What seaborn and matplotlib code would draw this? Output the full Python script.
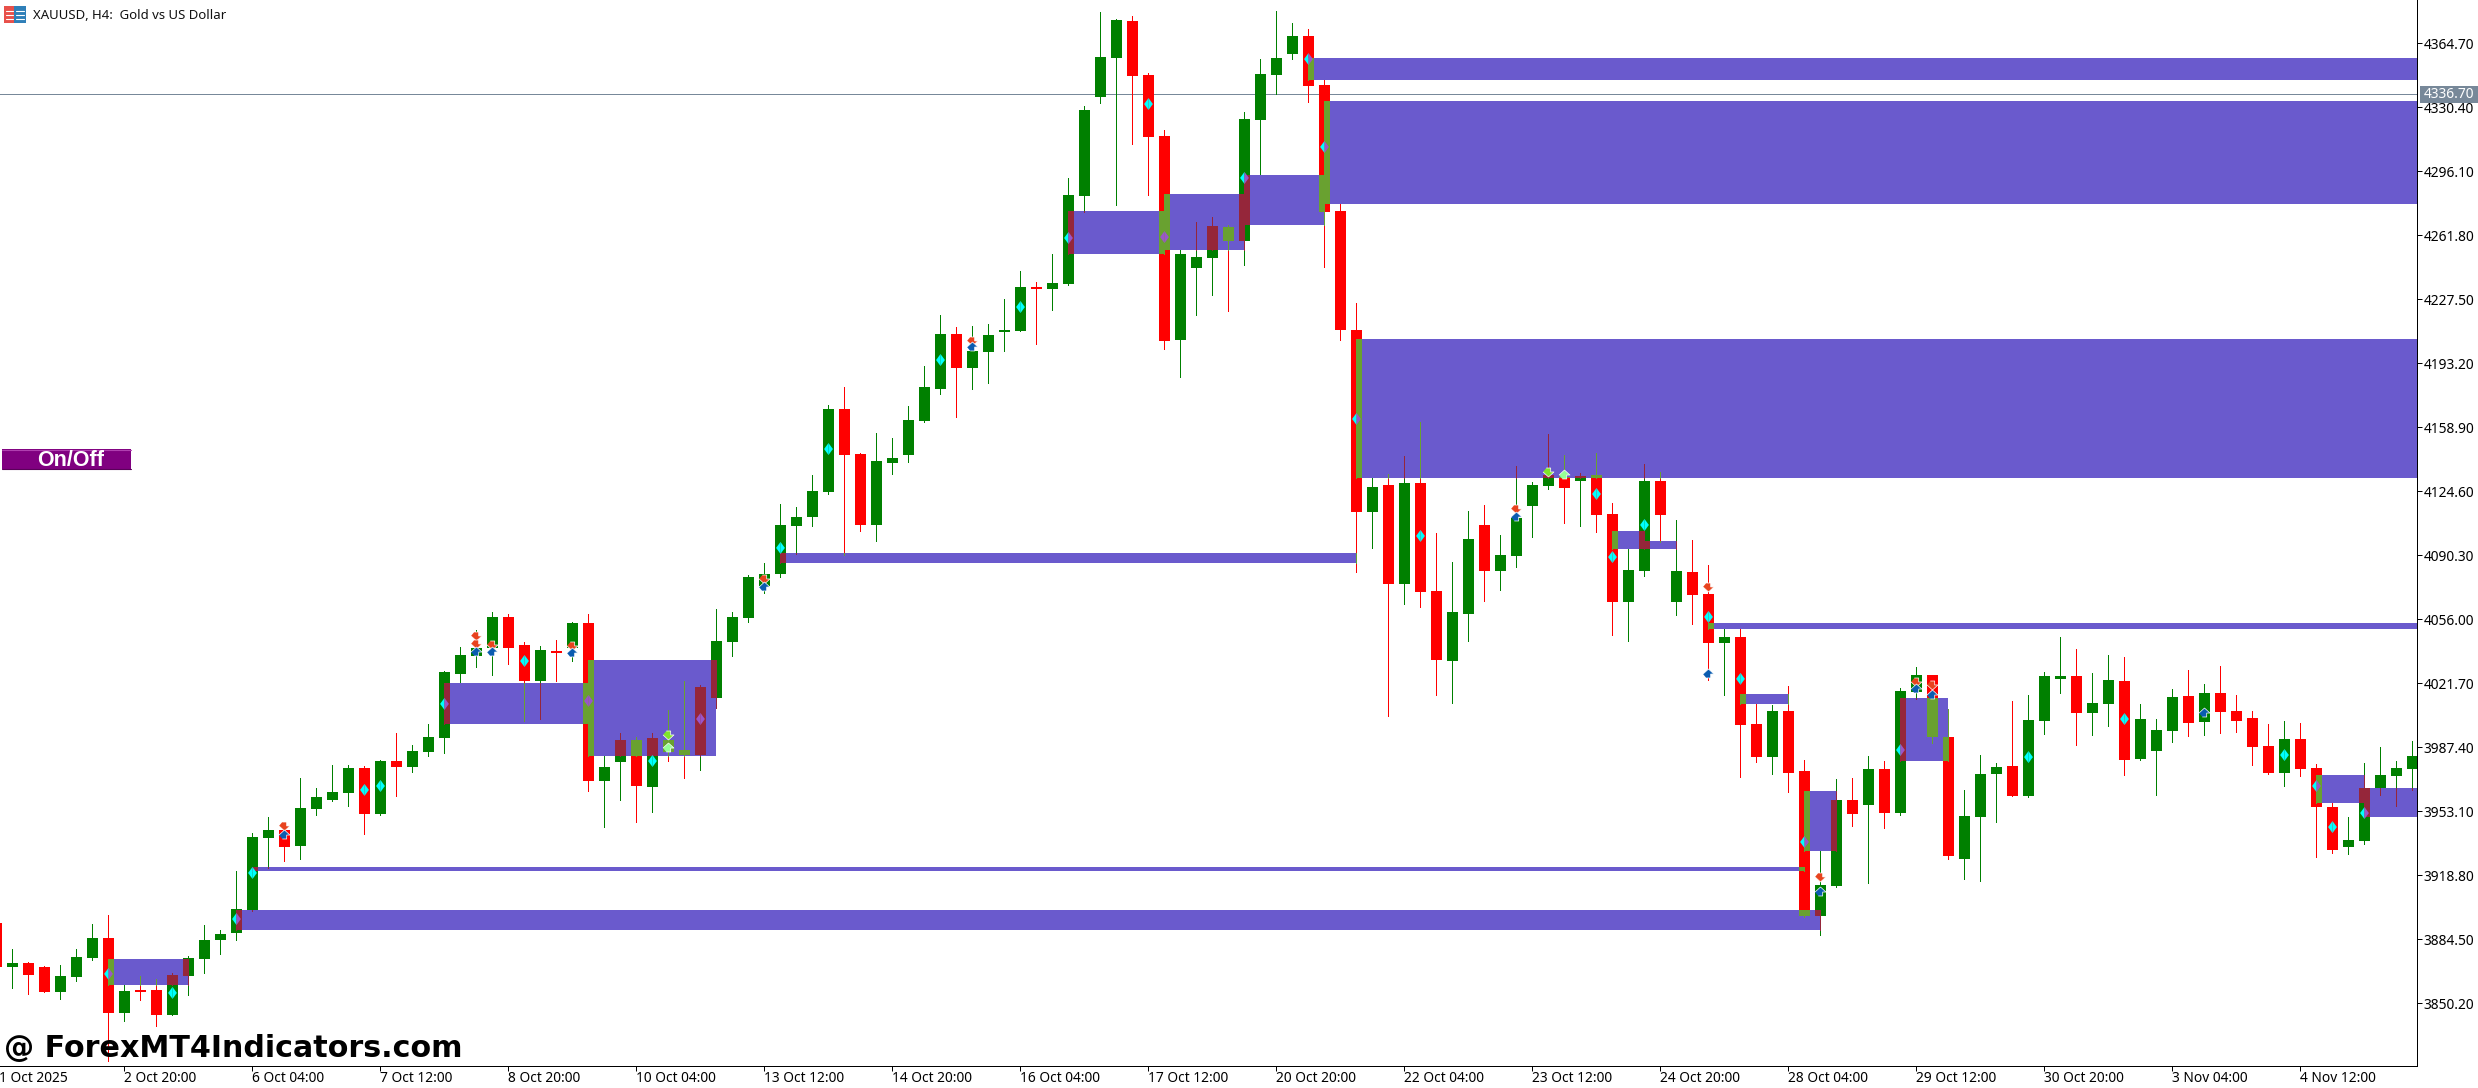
import numpy as np
import pandas as pd
import seaborn as sns
import matplotlib.pyplot as plt
from matplotlib.patches import Rectangle

sns.set_style("white")
plt.rcParams['font.family'] = ['Noto Sans', 'DejaVu Sans']

# H4 candles, first bar is cut off by the left edge
first_bar = -1
opens = [3893.1, 3869.5, 3871.6, 3869.5, 3856.1, 3864.1, 3874.3, 3885.0, 3844.8, 3857.2,
         3857.2, 3843.8, 3864.7, 3873.8, 3884.0, 3887.7, 3900.0, 3938.6, 3942.9, 3934.3,
         3954.2, 3959.0, 3962.8, 3976.2, 3951.5, 3979.9, 3976.7, 3984.7, 3992.2, 4026.5,
         4036.2, 4040.5, 4057.1, 4042.1, 4022.8, 4038.9, 4040.5, 4053.9, 3969.2, 3979.4,
         3991.2, 3966.0, 3991.2, 3985.8, 3983.1, 4013.7, 4043.7, 4056.5, 4073.7, 4080.1,
         4105.9, 4110.7, 4124.1, 4168.6, 4144.4, 4106.4, 4139.6, 4143.9, 4162.1, 4179.3,
         4208.8, 4190.5, 4199.1, 4209.8, 4210.4, 4233.9, 4232.9, 4235.5, 4282.7, 4335.8,
         4356.7, 4376.5, 4347.6, 4314.9, 4205.5, 4244.1, 4249.5, 4266.1, 4258.6, 4323.4,
         4347.6, 4358.8, 4368.5, 4342.2, 4274.7, 4210.9, 4113.4, 4127.8, 4074.8, 4128.9,
         4071.0, 4033.5, 4058.7, 4106.4, 4081.7, 4089.8, 4116.6, 4127.3, 4132.1, 4130.0,
         4133.2, 4112.3, 4065.1, 4081.7, 4130.0, 4065.1, 4081.2, 4069.4, 4043.1, 4046.4,
         3999.7, 3982.0, 4006.7, 3974.5, 3896.8, 3912.9, 3959.0, 3956.3, 3975.6, 3952.0,
         4016.9, 4026.0, 3992.8, 3927.4, 3949.9, 3972.9, 3977.2, 3961.1, 4001.3, 4023.9,
         4025.5, 4005.6, 4010.5, 4022.8, 3981.0, 3985.3, 3996.0, 4014.7, 4000.8, 4016.3,
         4006.7, 4003.0, 3987.9, 3973.5, 3991.7, 3976.2, 3955.2, 3933.8, 3937.0, 3965.4,
         3971.9, 3975.6]
highs = [3894.7, 3879.1, 3872.2, 3870.0, 3870.6, 3879.1, 3892.5, 3897.4, 3859.8, 3864.7,
         3863.1, 3866.3, 3875.4, 3892.0, 3889.3, 3921.0, 3941.3, 3949.9, 3947.2, 3970.8,
         3965.4, 3977.8, 3977.8, 3977.2, 3980.4, 3994.9, 3988.5, 3999.7, 4028.2, 4041.0,
         4050.1, 4059.8, 4058.7, 4043.7, 4041.5, 4044.8, 4054.4, 4058.7, 3982.6, 3994.9,
         3992.8, 3994.9, 4007.2, 4022.8, 4020.6, 4061.4, 4059.8, 4079.6, 4086.0, 4117.6,
         4116.0, 4133.2, 4170.7, 4180.3, 4145.0, 4155.7, 4153.0, 4170.2, 4191.6, 4218.9,
         4212.5, 4213.0, 4214.1, 4227.5, 4242.5, 4236.6, 4251.6, 4292.4, 4330.9, 4381.3,
         4377.6, 4379.2, 4348.6, 4318.1, 4253.8, 4268.8, 4271.5, 4267.2, 4327.7, 4356.1,
         4381.9, 4375.4, 4372.2, 4344.9, 4278.4, 4225.4, 4131.6, 4133.7, 4143.4, 4161.6,
         4102.1, 4086.6, 4113.9, 4117.1, 4101.0, 4138.0, 4129.4, 4155.2, 4143.9, 4134.3,
         4145.0, 4118.2, 4093.5, 4139.1, 4134.8, 4109.1, 4098.3, 4084.9, 4050.6, 4050.6,
         4010.5, 4009.9, 4020.1, 3980.4, 3931.7, 3970.3, 3970.8, 3982.6, 3979.9, 4019.0,
         4030.3, 4026.0, 4007.8, 3964.4, 3983.1, 3978.8, 4012.1, 4015.3, 4027.6, 4046.4,
         4039.9, 4027.1, 4036.7, 4035.6, 4010.5, 4002.4, 4018.5, 4028.7, 4021.2, 4030.8,
         4015.3, 4006.7, 3999.7, 4001.3, 4000.3, 3978.3, 3957.4, 3949.9, 3978.8, 3987.4,
         3979.9, 3990.6]
lows = [3867.9, 3858.2, 3855.0, 3856.1, 3852.3, 3862.0, 3873.2, 3819.1, 3840.6, 3851.8,
        3837.9, 3843.8, 3854.5, 3866.3, 3876.5, 3884.0, 3899.5, 3922.6, 3926.3, 3927.4,
        3951.0, 3958.5, 3955.8, 3940.8, 3951.0, 3961.1, 3974.0, 3982.6, 3984.2, 4021.7,
        4030.3, 4026.0, 4031.9, 4001.3, 4002.4, 4022.8, 4033.5, 3963.8, 3944.5, 3959.0,
        3947.2, 3952.6, 3979.9, 3970.8, 3975.1, 4008.3, 4036.2, 4054.4, 4069.9, 4078.5,
        4090.8, 4105.9, 4123.0, 4090.3, 4103.2, 4097.8, 4133.7, 4140.2, 4161.6, 4176.6,
        4164.3, 4179.3, 4182.5, 4199.6, 4210.4, 4203.4, 4221.6, 4235.0, 4274.1, 4332.6,
        4277.9, 4310.6, 4283.2, 4200.7, 4185.7, 4218.9, 4229.6, 4221.1, 4245.7, 4294.0,
        4337.4, 4356.1, 4333.1, 4244.7, 4205.5, 4081.2, 4094.1, 4004.0, 4064.0, 4062.4,
        4015.3, 4011.0, 4044.2, 4065.7, 4071.6, 4083.9, 4100.0, 4125.7, 4107.5, 4105.9,
        4102.6, 4047.4, 4044.2, 4079.0, 4097.3, 4058.1, 4053.3, 4023.3, 4015.3, 3971.3,
        3979.4, 3972.9, 3963.3, 3896.3, 3886.6, 3912.4, 3945.1, 3914.5, 3944.0, 3951.0,
        4013.1, 3989.6, 3927.4, 3916.7, 3915.6, 3947.2, 3961.1, 3960.6, 3994.4, 4016.3,
        3988.5, 3993.8, 3998.7, 3972.4, 3980.4, 3961.7, 3990.1, 3993.3, 3993.8, 3994.9,
        3995.4, 3977.8, 3972.9, 3966.5, 3971.9, 3928.5, 3930.6, 3930.1, 3935.4, 3961.7,
        3955.8, 3964.4]
closes = [3869.5, 3871.6, 3865.2, 3856.1, 3864.7, 3874.9, 3885.0, 3844.8, 3856.6, 3856.1,
          3843.8, 3865.2, 3874.3, 3884.0, 3887.2, 3900.6, 3939.2, 3942.9, 3933.8, 3954.7,
          3960.6, 3963.3, 3976.2, 3951.5, 3979.9, 3976.7, 3985.3, 3992.8, 4027.6, 4036.7,
          4040.5, 4057.1, 4040.5, 4022.8, 4039.4, 4037.8, 4053.9, 3969.2, 3976.7, 3991.2,
          3966.5, 3992.2, 3984.7, 3983.1, 4019.6, 4044.2, 4057.1, 4078.5, 4080.1, 4106.4,
          4110.7, 4124.6, 4168.6, 4143.9, 4106.4, 4140.7, 4142.3, 4162.7, 4180.3, 4208.8,
          4190.5, 4199.6, 4208.2, 4210.9, 4233.9, 4232.9, 4236.1, 4283.2, 4328.8, 4357.2,
          4377.0, 4347.0, 4314.3, 4205.0, 4251.6, 4250.0, 4266.6, 4258.6, 4324.0, 4348.1,
          4356.7, 4368.5, 4341.7, 4274.1, 4210.9, 4113.4, 4126.8, 4074.8, 4128.9, 4070.5,
          4034.0, 4059.8, 4098.9, 4081.7, 4090.3, 4110.1, 4127.8, 4133.2, 4126.2, 4132.6,
          4111.7, 4065.1, 4082.3, 4130.0, 4111.7, 4081.7, 4068.9, 4043.1, 4046.4, 3999.2,
          3982.0, 4006.7, 3973.5, 3896.8, 3913.4, 3959.0, 3951.5, 3975.6, 3952.0, 4017.4,
          4026.0, 3992.8, 3929.0, 3950.4, 3972.9, 3976.7, 3961.1, 4001.9, 4025.5, 4025.5,
          4005.6, 4011.0, 4023.3, 3980.4, 4002.4, 3996.5, 4014.2, 4000.3, 4016.3, 4006.2,
          4001.3, 3987.4, 3973.5, 3991.7, 3975.6, 3955.2, 3932.2, 3937.6, 3965.4, 3972.4,
          3976.2, 3982.6]

# supply / demand zones, 151 means still open at the right edge
zone_start = [6, 14, 15, 27, 36, 48, 66, 72, 77, 82, 81, 84, 100, 102, 106, 108, 112, 118, 144, 147]
zone_end = [11, 113, 112, 36, 44, 84, 72, 77, 82, 151, 151, 151, 102, 104, 151, 111, 114, 121, 147, 151]
zone_top = [3873.8, 3900.0, 3923.1, 4021.7, 4034.0, 4091.4, 4274.7, 4283.8, 4294.0, 4333.6,
            4356.7, 4206.1, 4103.2, 4097.8, 4053.9, 4015.8, 3963.8, 4013.7, 3972.4, 3965.4]
zone_bot = [3859.8, 3889.3, 3921.0, 3999.7, 3982.6, 4086.0, 4251.6, 4253.8, 4267.2, 4278.4,
            4344.9, 4131.6, 4093.5, 4093.5, 4050.6, 4010.5, 3931.7, 3979.9, 3957.4, 3949.9]

diamond_bar = [6, 10, 14, 15, 22, 23, 27, 32, 36, 40, 43, 48, 51, 58, 63, 66, 71, 72, 77, 81, 82,
               84, 88, 99, 100, 102, 106, 108, 112, 118, 126, 132, 142, 144, 145, 147]
diamond_price = [3865.8, 3855.6, 3895.2, 3919.9, 3964.4, 3966.5, 4010.5, 4033.5, 4012.1, 3979.9,
                 4002.4, 4094.1, 4147.1, 4194.8, 4223.2, 4260.2, 4332.0, 4260.7, 4292.4, 4356.1,
                 4309.0, 4163.2, 4100.5, 4123.0, 4089.2, 4106.4, 4057.1, 4023.9, 3936.5, 3985.8,
                 3982.0, 4002.4, 3983.1, 3966.5, 3944.5, 3952.0]

sell_bar = [17, 29, 29, 30, 35, 47, 60, 94, 106, 113, 119, 120]
sell_price = [3945.1, 4046.9, 4042.6, 4042.1, 4041.5, 4077.4, 4205.0, 4115.0, 4073.2, 3917.7, 4022.2, 4020.6]
buy_bar = [17, 29, 30, 35, 47, 60, 94, 106, 113, 119, 120, 137]
buy_price = [3940.8, 4038.9, 4038.9, 4038.3, 4073.7, 4202.3, 4111.2, 4027.1, 3910.2, 4019.0, 4015.8, 4006.2]
lime_bar = [41, 96]
lime_price = [3993.8, 4134.8]
mint_bar = [41, 97]
mint_price = [3987.4, 4133.7]

y_ticks = [4364.7, 4330.4, 4296.1, 4261.8, 4227.5, 4193.2, 4158.9, 4124.6,
           4090.3, 4056.0, 4021.7, 3987.4, 3953.1, 3918.8, 3884.5, 3850.2]
x_tick_bars = [7, 15, 23, 31, 39, 47, 55, 63, 71, 79, 87, 95, 103, 111, 119, 127, 135, 143]
x_tick_labels = ['2 Oct 20:00', '6 Oct 04:00', '7 Oct 12:00', '8 Oct 20:00', '10 Oct 04:00',
                 '13 Oct 12:00', '14 Oct 20:00', '16 Oct 04:00', '17 Oct 12:00', '20 Oct 20:00',
                 '22 Oct 04:00', '23 Oct 12:00', '24 Oct 20:00', '28 Oct 04:00', '29 Oct 12:00',
                 '30 Oct 20:00', '3 Nov 04:00', '4 Nov 12:00']
last_price = 4336.70
last_line = 4337.2

df = pd.DataFrame({'open': opens, 'high': highs, 'low': lows, 'close': closes})
df['bar'] = np.arange(len(df)) + first_bar
df['up'] = df['close'] >= df['open']
df['body_top'] = df[['open', 'close']].max(axis=1)
df['body_bot'] = df[['open', 'close']].min(axis=1)

GREEN, RED = '#008000', '#FF0000'
ZONE = '#6A5ACD'
OVER_GREEN, OVER_RED = '#95263A', '#69A130'   # colours a candle turns into under a zone
half_w = 5.5 / 16

W, H = 2478, 1088
fig = plt.figure(figsize=(W / 100, H / 100), dpi=100, facecolor='white')
ax = fig.add_axes([0, (H - 1066) / H, 2417 / W, 1066 / H])
ax.set_facecolor('white')

ax.axhline(last_line, color='#778899', lw=0.72, zorder=1, antialiased=False)

colors = np.where(df['up'], GREEN, RED)
ax.vlines(df['bar'], df['low'], df['high'], colors=colors, lw=0.72, zorder=2, antialiased=False)
ax.bar(df['bar'], df['body_top'] - df['body_bot'], bottom=df['body_bot'], width=2 * half_w,
       color=colors, linewidth=0, zorder=2, antialiased=False)

for s, e, top, bot in zip(zone_start, zone_end, zone_top, zone_bot):
    ax.bar(s, top - bot, bottom=bot, width=e - s, align='edge', color=ZONE, linewidth=0,
           zorder=3, antialiased=False)
    for row in df[(df['bar'] >= s - 1) & (df['bar'] <= e + 1)].itertuples():
        c = OVER_GREEN if row.up else OVER_RED
        left, right = max(row.bar - half_w, s), min(row.bar + half_w, e)
        b_top, b_bot = min(row.body_top, top), max(row.body_bot, bot)
        if left < right and b_bot < b_top:
            ax.bar(left, b_top - b_bot, bottom=b_bot, width=right - left, align='edge', color=c,
                   linewidth=0, zorder=4, antialiased=False)
        w_top, w_bot = min(row.high, top), max(row.low, bot)
        if s <= row.bar <= e and w_bot < w_top:
            ax.vlines(row.bar, w_bot, w_top, colors=c, lw=0.72, zorder=4, antialiased=False)


def half_in_zone(bar, price, side):
    for s, e, top, bot in zip(zone_start, zone_end, zone_top, zone_bot):
        inside = s < bar <= e if side == 'left' else s <= bar < e
        if inside and bot <= price <= top:
            return True
    return False


# diamonds are drawn as two halves because the zone recolours each side on its own
left_half = [(-0.73, 0), (0, 1), (0, -1)]
right_half = [(0.73, 0), (0, 1), (0, -1)]
for side, verts in (('left', left_half), ('right', right_half)):
    cols = ['#9B55C9' if half_in_zone(b, p, side) else '#00FFFF'
            for b, p in zip(diamond_bar, diamond_price)]
    sns.scatterplot(x=diamond_bar, y=diamond_price, hue=cols, palette={c: c for c in set(cols)},
                    marker=verts, s=75, linewidth=0, legend=False, zorder=6, ax=ax)

down = [(-0.4, 0.82), (0.4, 0.82), (0.4, 0.1), (1, 0.1), (0, -0.82), (-1, 0.1)]
up = [(x, -y) for x, y in down]
for xs, ys, verts, col in ((sell_bar, sell_price, down, '#E8431E'), (buy_bar, buy_price, up, '#0A5CB0'),
                           (lime_bar, lime_price, down, '#7FE62A'), (mint_bar, mint_price, up, '#96FF96')):
    sns.scatterplot(x=xs, y=ys, marker=verts, s=62, color=col, edgecolor='white', linewidth=0.5,
                    legend=False, zorder=7, ax=ax)

ax.set_xlim(-12.5 / 16, (2417 - 12.5) / 16)
ax.set_ylim(4387.75 - 0.53594 * 1066, 4387.75)
ax.set_xlabel('')
ax.set_ylabel('')

ax.yaxis.tick_right()
ax.set_yticks(y_ticks)
ax.set_yticklabels(['%.2f' % v for v in y_ticks])
ax.set_xticks(x_tick_bars)
ax.set_xticklabels(x_tick_labels, ha='left')
ax.tick_params(axis='y', which='major', right=True, length=3.6, width=0.72, pad=1, labelsize=9.9, colors='black')
ax.tick_params(axis='x', which='major', bottom=True, length=3.6, width=0.72, pad=0, labelsize=9.9, colors='black')
for side in ('left', 'top'):
    ax.spines[side].set_visible(False)
for side in ('right', 'bottom'):
    ax.spines[side].set_color('black')
    ax.spines[side].set_linewidth(0.72)

# pixel overlay for everything that is chart furniture
over = fig.add_axes([0, 0, 1, 1], facecolor='none')
over.set_xlim(0, W)
over.set_ylim(H, 0)
over.axis('off')

over.text(-1, 1079, '1 Oct 2025', fontsize=9.9, va='center', ha='left', color='black')
over.add_patch(Rectangle((2420, 86), 58, 17, color='#778899', linewidth=0))
over.text(2424, 94.5, '%.2f' % last_price, fontsize=9.9, va='center', ha='left', color='white')

over.add_patch(Rectangle((4, 6), 10, 17, color='#E8504A', linewidth=0))
over.add_patch(Rectangle((14, 6), 12, 17, color='#2F7FB8', linewidth=0))
for yy in (11, 15, 19):
    over.plot([6, 13], [yy, yy], color='white', lw=0.8)
    over.plot([16, 24], [yy, yy], color='white', lw=0.8)
over.text(33, 15.5, 'XAUUSD, H4:  Gold vs US Dollar', fontsize=9.5, va='center', ha='left', color='#111111')

over.add_patch(Rectangle((2, 449), 129, 20, color='#800080', linewidth=0))
over.plot([2, 131], [449.5, 449.5], color='#B040B0', lw=0.8)
over.plot([2, 131], [468.5, 468.5], color='#5A005A', lw=0.8)
over.text(71, 460, 'On/Off', fontsize=15.5, fontweight='bold', family='Liberation Sans',
          va='center', ha='center', color='white')

over.text(4, 1048, '@ ForexMT4Indicators.com', fontsize=21.7, fontweight='bold', family='DejaVu Sans',
          va='center', ha='left', color='black')

fig.savefig('out.png', dpi=100)
